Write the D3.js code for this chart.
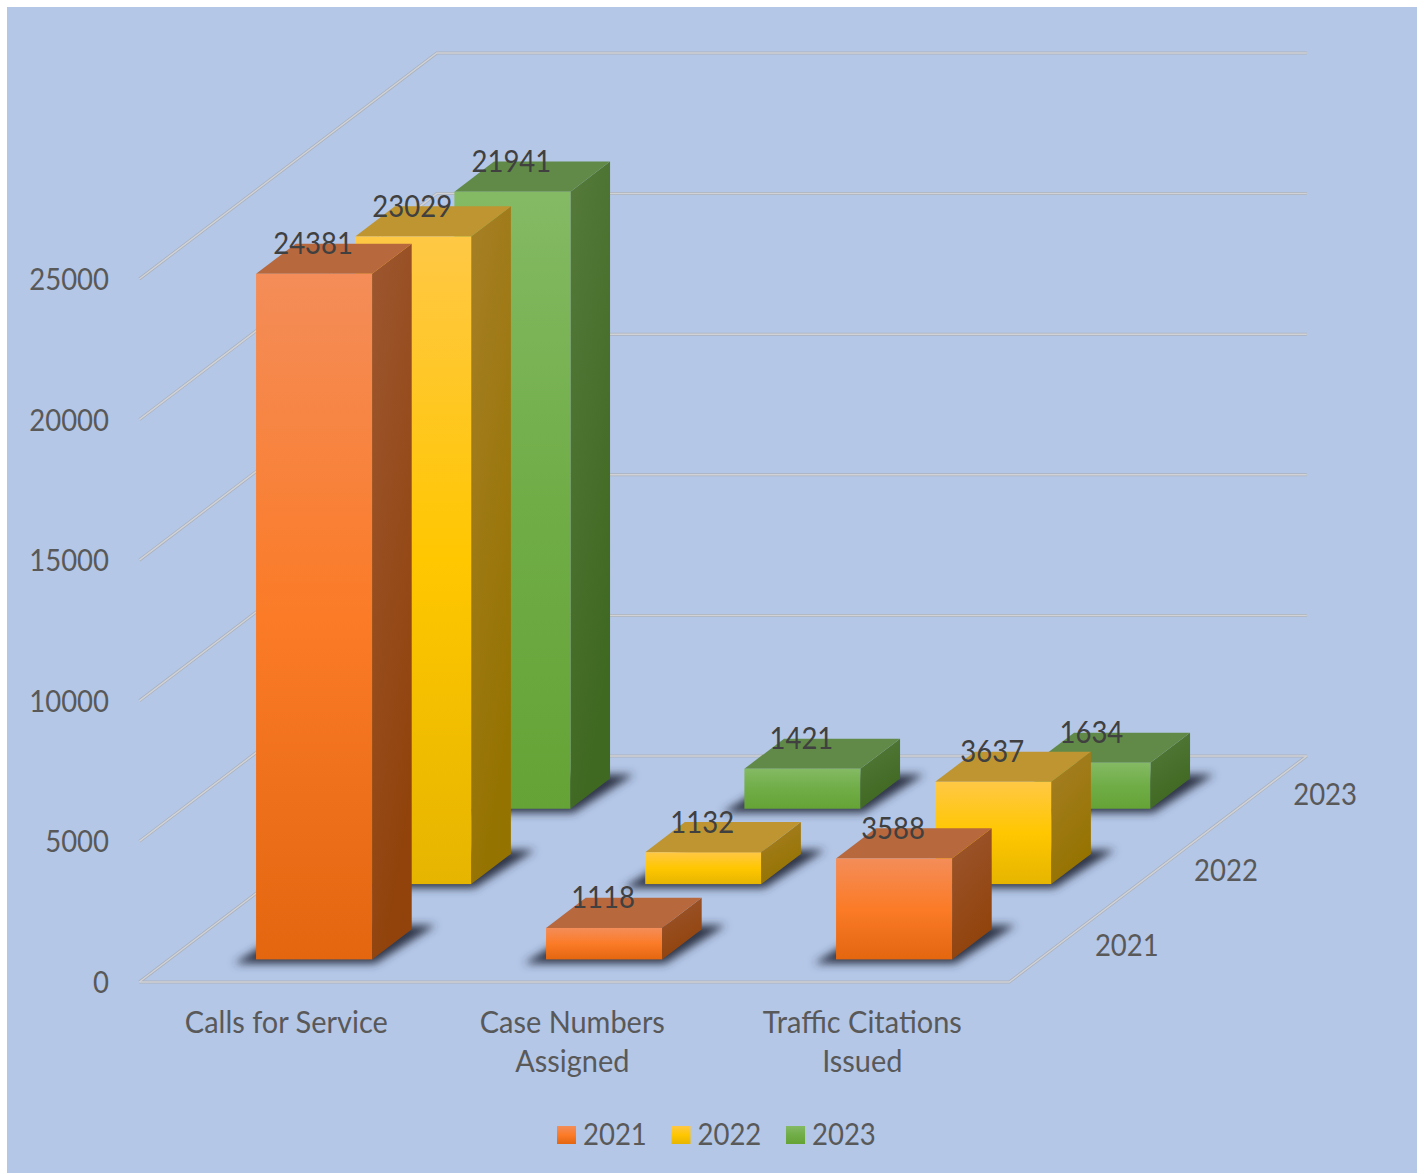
<!DOCTYPE html>
<html><head><meta charset="utf-8">
<script src="https://cdn.jsdelivr.net/npm/d3@7/dist/d3.min.js"></script>
<style>html,body{margin:0;padding:0;background:#fff}svg{display:block}text{font-family:Lato,sans-serif}</style>
</head><body><svg id="c" width="1424" height="1174"></svg>
<script>
const categories = [["Calls for Service"],["Case Numbers","Assigned"],["Traffic Citations","Issued"]];
const seriesNames = ["2021","2022","2023"];
const values2021 = [24381,1118,3588];
const values2022 = [23029,1132,3637];
const values2023 = [21941,1421,1634];
const seriesValues = [values2021,values2022,values2023];
const valueTicks = [0,5000,10000,15000,20000,25000];
const palette = [
 {top:"#b7683d",g:["#f48d59","#fb7b27","#e4660f"],s:["#9c5630","#91430b"]},
 {top:"#bf9531",g:["#ffc845","#ffc700","#e6b500"],s:["#a67f26","#957300"]},
 {top:"#618a48",g:["#84ba64","#70ad47","#65a336"],s:["#557a3b","#3f6821"]}
];
const fontSize = 30, digitSqueeze = 0.917, wordSqueeze = 0.965;

const svg = d3.select("#c");
svg.append("rect").attr("x",7).attr("y",7).attr("width",1410).attr("height",1166).attr("fill","#b4c7e7");

const floorW = 870, dx = 297.5, dy = 226, originX = 139.3, originY = 982;
const x = d3.scaleBand().domain(d3.range(categories.length)).range([0,floorW]).paddingInner(0.6).paddingOuter(0.3);
const z = d3.scaleBand().domain(d3.range(seriesNames.length)).range([0,1]).paddingInner(0.6).paddingOuter(0.3);
const h = d3.scaleLinear().domain([0,25000]).range([0,703]);
const P = (px,d,v) => [originX + px + d*dx, originY - d*dy - h(v)];
const poly = pts => pts.map(p=>p.join(",")).join(" ");

const putText = (g,str,px,py,anchor,fill,sq) => g.append("text")
  .attr("transform",`translate(${px},${py}) scale(${sq},1)`).attr("dy","0.35em")
  .attr("text-anchor",anchor).attr("font-size",fontSize).attr("fill",fill).text(str);

const defs = svg.append("defs");
const blur = defs.append("filter").attr("id","blur").attr("x","-30%").attr("y","-40%").attr("width","160%").attr("height","180%");
blur.append("feGaussianBlur").attr("stdDeviation",4);
palette.forEach((p,i)=>{
  const f = defs.append("linearGradient").attr("id","f"+i).attr("x1",0).attr("y1",0).attr("x2",0).attr("y2",1);
  p.g.forEach((c,k)=>f.append("stop").attr("offset",k/2).attr("stop-color",c));
  const s = defs.append("linearGradient").attr("id","s"+i).attr("x1",0).attr("y1",0).attr("x2",0.35).attr("y2",1);
  p.s.forEach((c,k)=>s.append("stop").attr("offset",k).attr("stop-color",c));
});

// gridlines: darker edge under a lighter core
[["#aab1bd",3],["#d0d2d6",1.5]].forEach(([col,w])=>{
  const grid = svg.append("g").attr("fill","none").attr("stroke",col).attr("stroke-width",w);
  valueTicks.forEach(v=>grid.append("polyline").attr("points",poly([P(0,0,v),P(0,1,v),P(floorW,1,v)])));
  grid.append("polyline").attr("points",poly([P(0,0,0),P(floorW,0,0),P(floorW,1,0)]));
});

// value axis
const axisScale = d3.scaleLinear().domain([0,25000]).range([originY,originY-703]);
const ax = svg.append("g").attr("transform","translate(109,0)")
  .call(d3.axisLeft(axisScale).tickValues(valueTicks).tickSize(0).tickPadding(0).tickFormat(d3.format("d")));
ax.select(".domain").remove();
ax.selectAll("text").attr("x",0).attr("font-size",fontSize).attr("font-family","Lato").attr("fill","#595959")
  .attr("dy","0.35em").attr("transform",`scale(${digitSqueeze},1)`);

// bars, back series first
const bw = x.bandwidth(), bd = z.bandwidth();
const barsG = svg.append("g");
const labels = [];
d3.range(seriesNames.length).reverse().forEach(si=>{
  const d0 = z(si), d1 = d0 + bd;
  const g = barsG.append("g");
  seriesValues[si].forEach((v,ci)=>{
    const x0 = x(ci), x1 = x0 + bw;
    const a = P(x0,d0,0), b = P(x1,d0,0), c = P(x1,d1,0), e = P(x0,d1,0);
    g.append("polygon").attr("filter","url(#blur)").attr("fill","#2e3547")
      .attr("points",poly([[a[0]-22,a[1]+4],[b[0]+3,b[1]+4],[c[0]+24,c[1]-4],[e[0],e[1]-4]]));
    g.append("polygon").attr("fill",`url(#s${si})`).attr("points",poly([P(x1,d0,0),P(x1,d1,0),P(x1,d1,v),P(x1,d0,v)]));
    g.append("polygon").attr("fill",palette[si].top).attr("points",poly([P(x0,d0,v),P(x1,d0,v),P(x1,d1,v),P(x0,d1,v)]));
    const tl = P(x0,d0,v), br = P(x1,d0,0);
    g.append("rect").attr("x",tl[0]).attr("y",tl[1]).attr("width",br[0]-tl[0]).attr("height",br[1]-tl[1]).attr("fill",`url(#f${si})`);
    labels.push({t:v,x:tl[0]+bw/2-1,y:tl[1]-30});
  });
});
const labelG = svg.append("g");
labels.forEach(d=>putText(labelG,d.t,d.x,d.y,"middle","#404040",digitSqueeze));

// category labels
categories.forEach((lines,ci)=>{
  const cx = P(x(ci)+bw/2,0,0)[0];
  lines.forEach((l,k)=>putText(svg,l,cx+[2,-2,-2][ci],1022+k*39,"middle","#595959",wordSqueeze));
});
// depth labels
seriesNames.forEach((s,si)=>{
  const p = P(floorW,z(si)+bd/2,0);
  putText(svg,s,p[0]+36,p[1]+1,"start","#595959",digitSqueeze);
});
// legend
const legendX = [557,671.5,786];
seriesNames.forEach((s,si)=>{
  svg.append("rect").attr("x",legendX[si]).attr("y",1126).attr("width",19).attr("height",18).attr("fill",`url(#f${si})`);
  putText(svg,s,legendX[si]+26,1134,"start","#595959",digitSqueeze);
});
</script></body></html>
